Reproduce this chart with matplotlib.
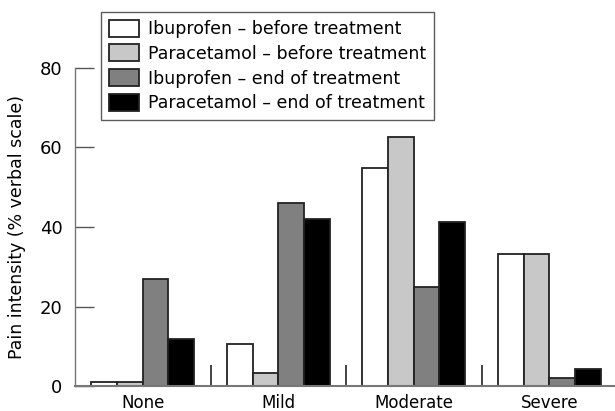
import matplotlib
matplotlib.use("Agg")
import matplotlib.pyplot as plt
import numpy as np

categories = ["None", "Mild", "Moderate", "Severe"]
series_names = ["Ibuprofen \u2013 before treatment",
                "Paracetamol \u2013 before treatment",
                "Ibuprofen \u2013 end of treatment",
                "Paracetamol \u2013 end of treatment"]
ibu_before = [1.1, 10.5, 54.8, 33.3]
para_before = [1.1, 3.2, 62.6, 33.3]
ibu_end = [27.0, 46.0, 25.0, 1.9]
para_end = [11.8, 42.0, 41.3, 4.4]
series = [ibu_before, para_before, ibu_end, para_end]
colors = ["#ffffff", "#c8c8c8", "#808080", "#000000"]
yticks = [0, 20, 40, 60, 80]

plt.rcParams['font.family'] = ['DejaVu Sans']

fig = plt.figure(figsize=(6.15, 4.11), dpi=100)
ax = fig.add_axes([75/615, 25/411, 542/615, 318/411])

x = np.arange(len(categories))
w = 0.19
handles = []
for i, (vals, c) in enumerate(zip(series, colors)):
    b = ax.bar(x + (i - 1.5) * w, vals, width=w, color=c,
               edgecolor="#222222", linewidth=1.3, zorder=2)
    handles.append(b)

ax.set_xlim(-0.5, 3.5)
ax.set_ylim(0, 80)
ax.spines['top'].set_visible(False)
ax.spines['right'].set_visible(False)
ax.spines['left'].set_color("#777777")
ax.spines['left'].set_linewidth(1.0)
ax.spines['bottom'].set_color("#777777")
ax.spines['bottom'].set_linewidth(1.5)
ax.spines['bottom'].set_zorder(3)

ax.set_yticks(yticks)
ax.set_yticklabels([str(v) for v in yticks], fontsize=13)
ax.tick_params(axis='y', direction='in', length=14, width=1.0,
               color="#555555", pad=9)

ax.set_xticks(x)
ax.set_xticklabels(categories, fontsize=12)
ax.tick_params(axis='x', which='major', length=0, pad=6)
ax.set_xticks([0.5, 1.5, 2.5], minor=True)
ax.tick_params(axis='x', which='minor', direction='in', length=15,
               width=1.2, color="#222222")

ax.set_ylabel("Pain intensity (% verbal scale)", fontsize=12.5)
ax.yaxis.set_label_coords(-0.09, 0.5)

leg = fig.legend(handles, series_names, loc='upper left',
                 bbox_to_anchor=(101/615, 1 - 11.7/411),
                 bbox_transform=fig.transFigure,
                 fontsize=12.5, frameon=True, fancybox=False,
                 handlelength=1.72, handleheight=1.15, handletextpad=0.55,
                 labelspacing=0.36, borderpad=0.45, borderaxespad=0)
leg.get_frame().set_edgecolor("#333333")
leg.get_frame().set_linewidth(1.0)

fig.savefig("out.png", dpi=100)
